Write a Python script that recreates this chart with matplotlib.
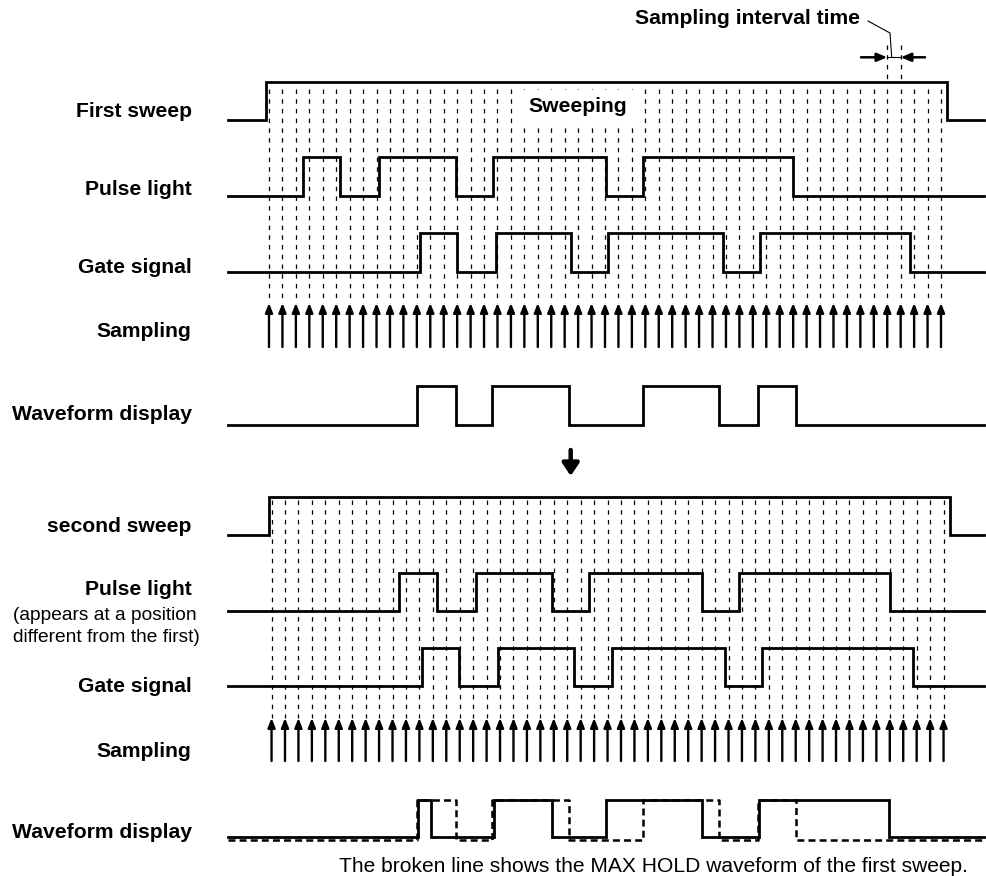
import matplotlib
matplotlib.use("Agg")
import matplotlib.pyplot as plt
from matplotlib.transforms import blended_transform_factory

# one sampling arrow per sample, index 0..50
samples = list(range(51))

# edge times in sample units, alternating rise / fall (signals start low)
sweep_edges = [-0.22, 50.45]
pulse1_edges = [2.5, 5.28, 8.18, 13.9, 16.67, 25.07, 27.8, 39.0]
gate1_edges = [11.2, 14.0, 16.9, 22.5, 25.25, 33.75, 36.5, 47.7]
wave1_edges = [11.0, 13.9, 16.6, 22.3, 27.85, 33.5, 36.4, 39.2]

pulse2_edges = [9.5, 12.3, 15.2, 20.9, 23.6, 32.05, 34.8, 46.0]
gate2_edges = [11.22, 13.97, 16.83, 22.5, 25.3, 33.74, 36.5, 47.7]
wave2_edges = [10.88, 11.87, 16.56, 20.85, 24.89, 32.05, 36.3, 45.97]
# MAX HOLD of the first sweep, drawn broken on the second display
maxhold_edges = wave1_edges

interval_samples = [46, 47]

# row labels (text, baseline in px)
labels_bold = [("First sweep", 116.7), ("Pulse light", 195), ("Gate signal", 272.7),
               ("Sampling", 337), ("Waveform display", 420),
               ("second sweep", 532), ("Pulse light", 595), ("Gate signal", 692.3),
               ("Sampling", 756.7), ("Waveform display", 837.7)]
labels_note = [("(appears at a position", 619.5), ("different from the first)", 641.7)]

# ---- layout (pixels) ----
W, H = 986, 876
X0, DX = 269.0, 13.44      # pixel of sample 0, pixels per sample
SHIFT2 = 0.19              # second sweep drawn slightly to the right


def px2t(x):
    return (x - X0) / DX


T_START, T_END = px2t(228), px2t(984)

plt.rcParams['font.family'] = ['Liberation Sans', 'DejaVu Sans']
plt.rcParams['lines.scale_dashes'] = False

fig = plt.figure(figsize=(W / 100, H / 100), dpi=100)
ax = fig.add_axes([0, 0, 1, 1])
ax.set_xlim(px2t(0), px2t(W))
ax.set_ylim(H, 0)
ax.axis('off')

GRID = dict(color='black', lw=0.9, linestyle=(0, (3.2, 3.8)), zorder=1)


def step(edges, low, high, shift=0.0, **kw):
    xs, ys = [T_START], [low]
    level = low
    for e in edges:
        new = high if level == low else low
        xs += [e + shift, e + shift]
        ys += [level, new]
        level = new
    xs.append(T_END)
    ys.append(level)
    style = dict(color='black', lw=2, solid_joinstyle='miter', zorder=4)
    style.update(kw)
    ax.plot(xs, ys, **style)


def sample_arrows(y_top, y_bot, shift=0.0):
    for t in samples:
        ax.annotate('', xy=(t + shift, y_top), xytext=(t + shift, y_bot),
                    arrowprops=dict(arrowstyle='-|>,head_length=0.55,head_width=0.22',
                                    lw=1.7, color='black', shrinkA=0, shrinkB=0,
                                    mutation_scale=10), zorder=4)


# ---- first sweep ----
for t in samples:
    ax.plot([t, t], [89, 303], **GRID)
step(sweep_edges, 120, 81.5)
step(pulse1_edges, 196, 157)
step(gate1_edges, 271.5, 233)
sample_arrows(303, 347)
step(wave1_edges, 425, 386)
ax.text(px2t(578), 111.7, "Sweeping", ha='center', va='baseline', fontsize=15.2,
        fontweight='bold', zorder=3,
        bbox=dict(boxstyle='square,pad=0.33', fc='white', ec='none'))

# sampling interval annotation
for t in interval_samples:
    ax.plot([t, t], [45, 81], **GRID)
ax.plot(interval_samples, [57.3, 57.3], color='black', lw=0.8)
ax.annotate('', xy=(interval_samples[0], 57.3), xytext=(px2t(861), 57.3),
            arrowprops=dict(arrowstyle='-|>,head_length=0.6,head_width=0.25',
                            lw=1.8, color='black', shrinkA=0, shrinkB=0, mutation_scale=10))
ax.annotate('', xy=(interval_samples[1], 57.3), xytext=(px2t(925), 57.3),
            arrowprops=dict(arrowstyle='-|>,head_length=0.6,head_width=0.25',
                            lw=1.8, color='black', shrinkA=0, shrinkB=0, mutation_scale=10))
ax.plot([px2t(868), px2t(890), px2t(891.7)], [21, 33, 57], color='black', lw=0.8)
ax.text(px2t(747.5), 24, "Sampling interval time", ha='center', va='baseline',
        fontsize=15.2, fontweight='bold')

# transition arrow
ax.annotate('', xy=(px2t(570.7), 476), xytext=(px2t(570.7), 450),
            arrowprops=dict(arrowstyle='-|>,head_length=0.75,head_width=0.5',
                            lw=3.2, color='black', shrinkA=0, shrinkB=0, mutation_scale=10))

# ---- second sweep ----
for t in samples:
    ax.plot([t + SHIFT2, t + SHIFT2], [500, 718], **GRID)
step(sweep_edges, 535, 496.5, SHIFT2)
step(pulse2_edges, 611, 572.5, SHIFT2)
step(gate2_edges, 686, 648, SHIFT2)
sample_arrows(718, 761, SHIFT2)
step(maxhold_edges, 839.5, 799.5, linestyle=(0, (5, 3)), lw=1.8, zorder=5)
step(wave2_edges, 837, 800, SHIFT2)

# ---- labels ----
lab_tr = blended_transform_factory(ax.transAxes, ax.transData)
for text, y in labels_bold:
    ax.text(191.5 / W, y, text, transform=lab_tr, ha='right', va='baseline',
            fontsize=15.2, fontweight='bold')
for text, y in labels_note:
    ax.text(12.7 / W, y, text, transform=lab_tr, ha='left', va='baseline', fontsize=13.8)

ax.text(968 / W, 871.7, "The broken line shows the MAX HOLD waveform of the first sweep.",
        transform=lab_tr, ha='right', va='baseline', fontsize=15.1)

fig.savefig("out.png", dpi=100)
